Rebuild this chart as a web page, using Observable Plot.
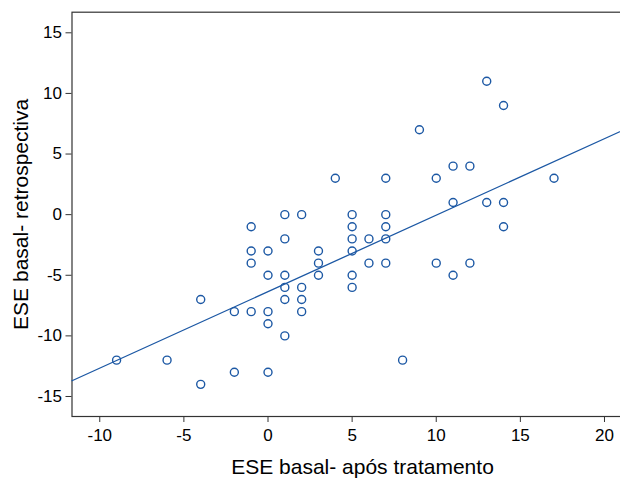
<!DOCTYPE html>
<html><head><meta charset="utf-8">
<script src="https://cdn.jsdelivr.net/npm/d3@7"></script>
<script src="https://cdn.jsdelivr.net/npm/@observablehq/plot@0.6"></script>
<style>
html,body{margin:0;padding:0;background:#fff;overflow:hidden;}
#chart{width:620px;height:478px;overflow:hidden;}
</style></head><body><div id="chart"></div>
<script>
// Data
const xVals = [-9,-6,-4,-4,-2,-2,-1,-1,-1,-1,0,0,0,0,0,1,1,1,1,1,1,2,2,2,2,3,3,3,4,5,5,5,5,5,5,6,6,7,7,7,7,7,8,9,10,10,11,11,11,12,12,13,13,14,14,14,17];
const yVals = [-12,-12,-7,-14,-8,-13,-1,-3,-4,-8,-3,-5,-8,-9,-13,0,-2,-5,-6,-7,-10,0,-6,-7,-8,-3,-4,-5,3,0,-1,-2,-3,-5,-6,-2,-4,3,0,-1,-2,-4,-12,7,3,-4,4,1,-5,4,-4,11,1,9,1,-1,3];
const xTicks = [-10,-5,0,5,10,15,20];
const yTicks = [-15,-10,-5,0,5,10,15];
const xDomain = [-11.65, 21.1];
const yDomain = [-16.65, 16.7];
// fitted line
const fitIntercept = -6.35;
const fitSlope = 0.631;
const xTitle = "ESE basal- após tratamento";
const yTitle = "ESE basal- retrospectiva";

const points = xVals.map((x, i) => ({x, y: yVals[i]}));
const fitLine = xDomain.map(x => ({x, y: fitIntercept + fitSlope * x}));
const blue = "#1c58a4";

const chart = Plot.plot({
  width: 620, height: 478,
  marginLeft: 71.5, marginRight: -2.5, marginTop: 11.7, marginBottom: 62,
  style: {fontFamily: "'Liberation Sans', Arial, sans-serif", background: "#fff", color: "#000", overflow: "hidden"},
  x: {domain: xDomain, ticks: xTicks},
  y: {domain: yDomain, ticks: yTicks},
  marks: [
    Plot.frame({stroke: "#333", strokeWidth: 1.2}),
    Plot.axisX(xTicks, {tickSize: 6, tickPadding: 6, fontSize: 17, label: null, stroke: "#333", tickFormat: d => String(d)}),
    Plot.axisY(yTicks, {tickSize: 6, tickPadding: 4, fontSize: 17, label: null, stroke: "#333", tickFormat: d => String(d)}),
    Plot.line(fitLine, {x: "x", y: "y", stroke: blue, strokeWidth: 1.3}),
    Plot.dot(points, {x: "x", y: "y", r: 4, stroke: blue, strokeWidth: 1.4, fill: "none"}),
    Plot.text([xTitle], {frameAnchor: "bottom", dy: 51, dx: 15, fontSize: 21, textAnchor: "middle", lineAnchor: "middle", text: d => d}),
    Plot.text([yTitle], {frameAnchor: "left", dx: -51, rotate: -90, fontSize: 21, textAnchor: "middle", lineAnchor: "middle", text: d => d})
  ]
});
document.getElementById("chart").appendChild(chart);
</script></body></html>
